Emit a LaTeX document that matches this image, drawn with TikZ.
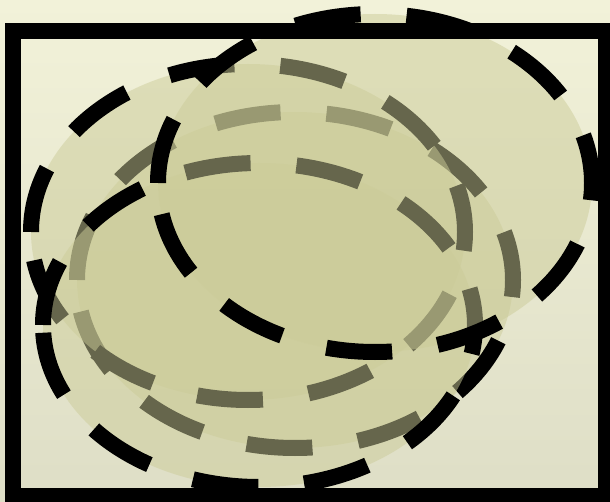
\documentclass[tikz,border=0pt]{standalone}
\usepackage{xcolor}
\definecolor{bgtop}{HTML}{F2F2D9}
\definecolor{bgbot}{HTML}{DEDEC6}
\definecolor{oliveblob}{HTML}{CCCC99}

\begin{document}
\begin{tikzpicture}[x=1pt,y=-1pt,
  blob/.style={fill=oliveblob,fill opacity=0.5,draw=black,line width=16pt,dash pattern=on 66pt off 46pt}]
\useasboundingbox (0,0) rectangle (610,502);
\clip (0,0) rectangle (610,502);
\shade[top color=bgtop,bottom color=bgbot] (0,0) rectangle (610,502);
% the ovals, lowest first; each one starts at its left end
\path[blob] (77,280) arc[start angle=180,end angle=540,x radius=218,y radius=168];
\path[blob] (31,232) arc[start angle=180,end angle=540,x radius=217,y radius=168];
\path[blob] (43,325) arc[start angle=180,end angle=540,x radius=216,y radius=162];
\path[blob] (158,183) arc[start angle=180,end angle=540,x radius=217,y radius=169];
\draw[black,line width=16pt] (13,31) rectangle (606,496);
\end{tikzpicture}
\end{document}
